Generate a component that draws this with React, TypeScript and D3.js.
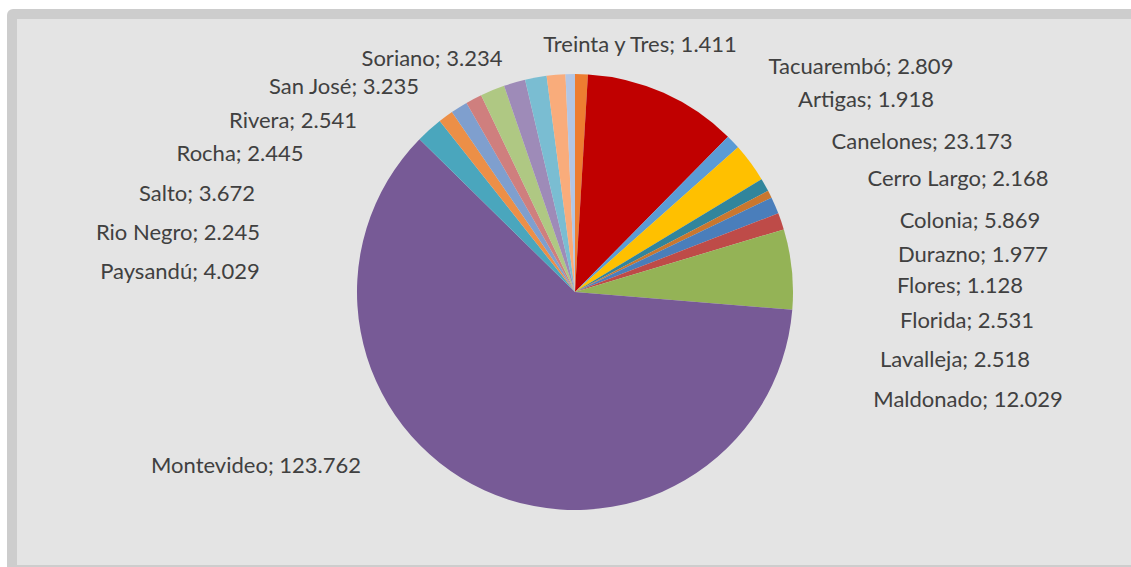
import React from "react";
import * as d3 from "d3";

// ---- data ----
const departments = [
  "Artigas", "Canelones", "Cerro Largo", "Colonia", "Durazno", "Flores", "Florida",
  "Lavalleja", "Maldonado", "Montevideo", "Paysandú", "Rio Negro", "Rivera", "Rocha",
  "Salto", "San José", "Soriano", "Tacuarembó", "Treinta y Tres",
];
const values = [
  1918, 23173, 2168, 5869, 1977, 1128, 2531,
  2518, 12029, 123762, 4029, 2245, 2541, 2445,
  3672, 3235, 3234, 2809, 1411,
];
const sliceColors = [
  "#ED7D31", "#C00000", "#5B9BD5", "#FFC000", "#31859C", "#C9772F", "#4A7EBB",
  "#BE4B48", "#94B356", "#775A96", "#4AA6BD", "#EC8F47", "#7F9FCE", "#CF7F7E",
  "#AFC883", "#9E8BB8", "#7ABDD2", "#F9AC7B", "#B3C6E4",
];

// ---- layout (label centres / baselines, hand placed as in the original) ----
const labelLayout: [number, number][] = [
  [866, 107], [922, 149], [958, 186], [970, 228], [973, 262], [960, 293], [967, 328],
  [955, 367], [968, 407], [256, 473], [180, 279], [178, 240], [293, 128], [240, 161],
  [197, 201], [344, 94], [432, 66], [861, 74], [640, 52],
];

const W = 1131;
const H = 567;
const CX = 575;
const CY = 292;
const R = 218;

const esLocale = d3.formatLocale({
  decimal: ",",
  thousands: ".",
  grouping: [3],
  currency: ["", ""],
});
const fmt = esLocale.format(",d");

export default function App() {
  const pie = d3
    .pie<number>()
    .sort(null)
    .value((d) => d)
    .startAngle(0)
    .endAngle(2 * Math.PI);
  const arcs = pie(values);
  const arc = d3.arc<d3.PieArcDatum<number>>().innerRadius(0).outerRadius(R);

  return (
    <div style={{ position: "fixed", left: 0, top: 0 }}>
      <svg width={W} height={H} style={{ display: "block" }}>
        <rect x={0} y={0} width={W} height={H} fill="#ffffff" />
        <rect x={7} y={9} width={W + 20} height={H - 9 + 20} rx={6} fill="#cdcdcd" />
        <rect x={17} y={19} width={W} height={565 - 19} fill="#e4e4e4" />
        <g transform={`translate(${CX},${CY})`}>
          {arcs.map((a, i) => (
            <path key={i} d={arc(a) || ""} fill={sliceColors[i]} />
          ))}
        </g>
        <g fontFamily="Lato, 'Open Sans', sans-serif" fontSize={22} fill="#404040">
          {departments.map((name, i) => (
            <text key={name} x={labelLayout[i][0]} y={labelLayout[i][1]} textAnchor="middle">
              {`${name}; ${fmt(values[i])}`}
            </text>
          ))}
        </g>
      </svg>
    </div>
  );
}
